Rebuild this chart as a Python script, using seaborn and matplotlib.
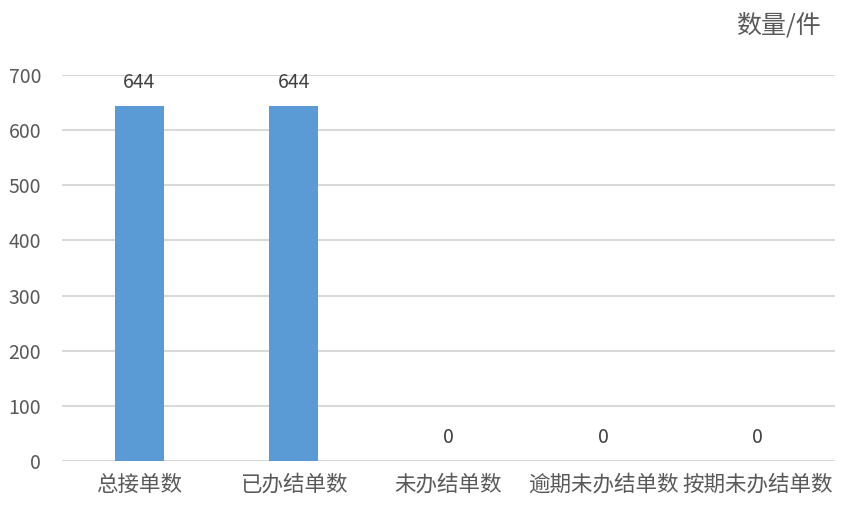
import numpy as np
import pandas as pd
import matplotlib
matplotlib.use('Agg')
import matplotlib.pyplot as plt
import seaborn as sns

# 数据
categories = ['总接单数', '已办结单数', '未办结单数', '逾期未办结单数', '按期未办结单数']
counts = [644, 644, 0, 0, 0]
y_ticks = [0, 100, 200, 300, 400, 500, 600, 700]

sns.set_style('white')
plt.rcParams['font.family'] = ['Noto Sans CJK SC', 'DejaVu Sans']

df = pd.DataFrame({'类别': categories, '数量': counts})

fig = plt.figure(figsize=(8.59, 5.16), dpi=100)
ax = fig.add_axes([0.0722, 0.1066, 0.8998, 0.7481])

sns.barplot(data=df, x='类别', y='数量', color='#5B9BD5', width=0.317,
            saturation=1, linewidth=0, ax=ax, zorder=3)

ax.set_ylim(0, 700)
ax.set_yticks(y_ticks)
ax.yaxis.grid(True, color='#D9D9D9', linewidth=1.5, zorder=0)
ax.set_axisbelow(True)
for s in ax.spines.values():
    s.set_visible(False)
ax.tick_params(axis='both', length=0)
ax.tick_params(axis='y', labelsize=14, labelcolor='#595959', pad=15)
ax.tick_params(axis='x', labelsize=15.5, labelcolor='#595959', pad=9)
ax.set_xlabel('')
ax.set_ylabel('')

# 数值标签
for i, v in enumerate(counts):
    ax.annotate(f'{v}', (i, v), xytext=(0, 9), textcoords='offset points',
                ha='center', va='bottom', fontsize=14, color='#404040')

fig.text(0.906, 0.95, '数量/件', fontsize=18, color='#595959',
         ha='center', va='center')

fig.savefig('out.png', dpi=100)
